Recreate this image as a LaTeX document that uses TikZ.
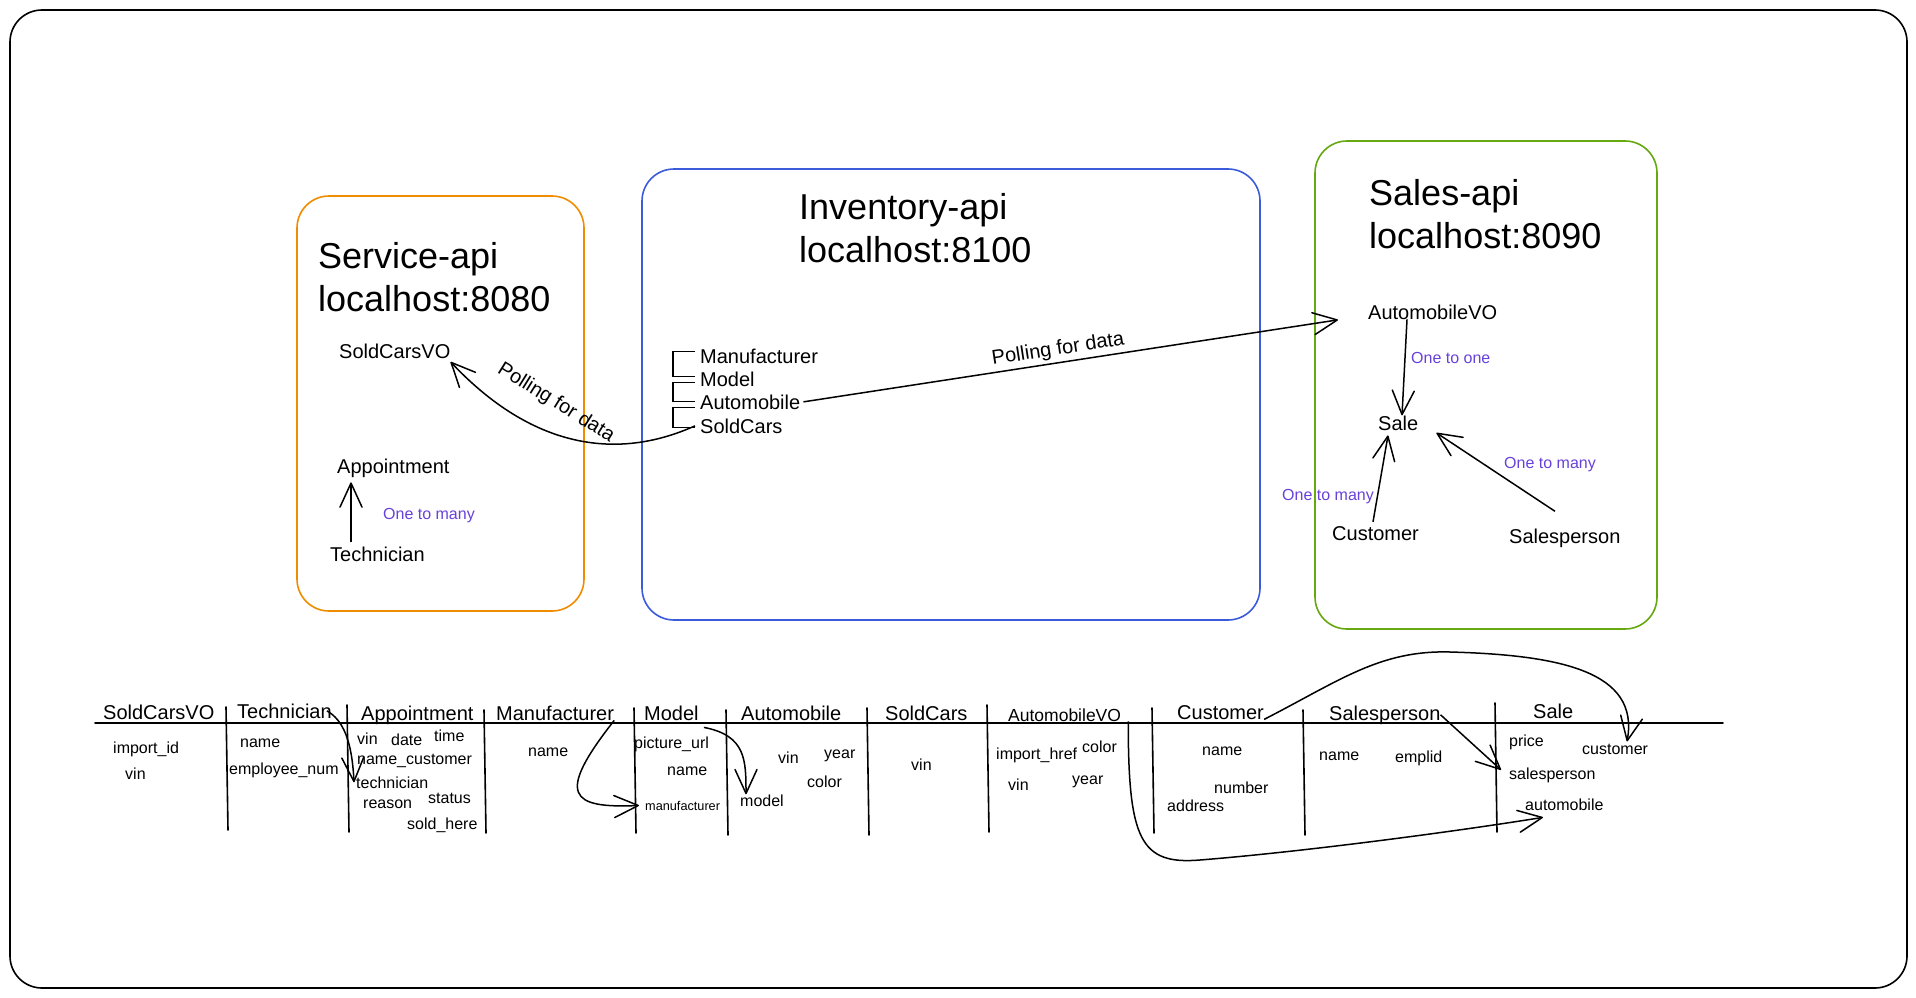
\documentclass[tikz,border=0pt]{standalone}
\usepackage{fontspec}
\setmainfont{Liberation Sans}
\usepackage{tikz}
\usetikzlibrary{arrows.meta,calc}
\definecolor{svcorange}{HTML}{F08C00}
\definecolor{invblue}{HTML}{3B5BDB}
\definecolor{salegreen}{HTML}{66A80F}
\definecolor{relviolet}{HTML}{6741D9}

\begin{document}
\begin{tikzpicture}[x=1pt, y=-1pt,
    ttl/.style={font=\fontsize{36}{43}\selectfont, align=left, anchor=base west, inner sep=0pt},
    ent/.style={font=\fontsize{20}{24}\selectfont, anchor=base west, inner sep=0pt},
    fld/.style={font=\fontsize{16}{19}\selectfont, anchor=base west, inner sep=0pt},
    rel/.style={fld, text=relviolet},
    apibox/.style={line width=1.6pt, rounded corners=32pt},
    tabline/.style={line width=1.6pt, line cap=round},
    bracket/.style={line width=1.2pt},
    link/.style={line width=1.5pt, -{Straight Barb[length=24pt,width=22pt,round]}}]
    \useasboundingbox (0,0) rectangle (1916,998);
    \draw[line width=1.6pt, rounded corners=32pt] (10,10) rectangle (1907,988);

    % service-api
    \draw[apibox, svcorange] (297,196) rectangle (584,611);
    \node[ttl] (svcTitle) at (318,311) {Service-api\\localhost:8080};
    \node[ent] (svcVO) at (339,358) {SoldCarsVO};
    \node[ent] (svcAppt) at (337,473) {Appointment};
    \node[ent] (svcTech) at (330,561) {Technician};
    \node[rel] (svcRel) at (383,519) {One to many};
    \draw[link] ([xshift=21pt,yshift=4pt]svcTech.north west) -- ([xshift=14pt,yshift=-5pt]svcAppt.south west);

    % inventory-api
    \draw[apibox, invblue] (642,169) rectangle (1260,620);
    \node[ttl] (invTitle) at (799,262) {Inventory-api\\localhost:8100};
    \node[ent] (invMfr) at (700,363) {Manufacturer};
    \node[ent] (invModel) at (700,386) {Model};
    \node[ent] (invAuto) at (700,409) {Automobile};
    \node[ent] (invSold) at (700,433) {SoldCars};
    \draw[bracket] ([xshift=-5pt,yshift=4pt]invMfr.west) -- ++(-22,0) |- ([xshift=-5pt,yshift=2pt]invModel.west);
    \draw[bracket] ([xshift=-5pt,yshift=-4pt]invModel.west) -- ++(-22,0) |- ([xshift=-5pt]invAuto.west);
    \draw[bracket] ([xshift=-5pt,yshift=-6pt]invAuto.west) -- ++(-22,0) |- ([xshift=-5pt,yshift=-2pt]invSold.west);

    % sales-api
    \draw[apibox, salegreen] (1315,141) rectangle (1657,629);
    \node[ttl] (saleTitle) at (1369,248) {Sales-api\\localhost:8090};
    \node[ent] (saleVO) at (1368,319) {AutomobileVO};
    \node[ent] (saleSale) at (1378,430) {Sale};
    \node[ent] (saleCust) at (1332,540) {Customer};
    \node[ent] (saleSlsp) at (1509,543) {Salesperson};
    \node[rel] (relOne) at (1411,363) {One to one};
    \node[rel, anchor=base east] (relCust) at (1374,500) {One to many};
    \node[rel] (relSlsp) at (1504,468) {One to many};
    \draw[link] ([xshift=39pt]saleVO.south west) -- ([xshift=24pt]saleSale.north west);
    \draw[link] ([xshift=41pt,yshift=4pt]saleCust.north west) -- ([xshift=10pt,yshift=-5pt]saleSale.south west);
    \draw[link] ([xshift=46pt,yshift=17pt]saleSlsp.north west) -- ([xshift=18pt,yshift=-10pt]saleSale.east);

    % polling
    \draw[link] ([xshift=3pt]invAuto.east) -- ([xshift=-30pt,yshift=-8pt]saleVO.west)
        node[ent, pos=0.48, sloped, above, inner sep=3pt] (pollSale) {Polling for data};
    \draw[link] ([xshift=-5pt]invSold.west) .. controls +(-80,36) and +(80,85) .. ([yshift=-11pt]svcVO.east);
    \node[ent, anchor=center, rotate=-32] (pollSvc) at (556,403) {Polling for data};

    % table
    \draw[tabline] (95,723) -- (1723,723);
    \foreach \x/\ya/\yb in {226/707/830, 347/705/832, 484/710/833, 634/708/833, 726/710/835,
        867/708/835, 987/705/832, 1152/708/833, 1303/710/835, 1495/703/832}
        \draw[tabline] (\x,\ya) -- (\x+2,\yb);

    \foreach \nm/\x/\y/\txt in {hdVO/103/719/SoldCarsVO, hdTech/237/718/Technician,
        hdAppt/361/720/Appointment, hdMfr/496/720/Manufacturer, hdModel/644/720/Model,
        hdAuto/741/720/Automobile, hdSold/885/720/SoldCars, hdCust/1177/719/Customer,
        hdSlsp/1329/720/Salesperson, hdSale/1533/718/Sale}
        \node[ent] (\nm) at (\x,\y) {\txt};
    \node[ent, font=\fontsize{17.5}{21}\selectfont] (hdAutoVO) at (1008,721) {AutomobileVO};

    \foreach \nm/\x/\y/\txt in {fVOid/113/753/import\_id, fVOvin/125/779/vin,
        fTeName/240/747/name, fTeNum/229/774/employee\_num,
        fApVin/357/744/vin, fApDate/391/745/date, fApTime/434/741/time,
        fApCust/357/764/name\_customer, fApTech/356/788/technician, fApReason/363/808/reason,
        fApStatus/428/803/status, fApSold/407/829/sold\_here,
        fMfName/528/756/name,
        fMdPic/634/748/picture\_url, fMdName/667/775/name,
        fAuVin/778/763/vin, fAuYear/824/758/year, fAuColor/807/787/color, fAuModel/740/806/model,
        fSoVin/911/770/vin,
        fAvHref/996/759/import\_href, fAvColor/1082/752/color, fAvVin/1008/790/vin, fAvYear/1072/784/year,
        fCuName/1202/755/name, fCuNum/1214/793/number, fCuAddr/1167/811/address,
        fSpName/1319/760/name, fSpId/1395/762/emplid,
        fSaPrice/1509/746/price, fSaCust/1582/754/customer, fSaSlsp/1509/779/salesperson,
        fSaAuto/1525/810/automobile}
        \node[fld] (\nm) at (\x,\y) {\txt};
    \node[fld, font=\fontsize{12.7}{15}\selectfont] (fMdMfr) at (645,810) {manufacturer};

    \draw[link] ([xshift=-5pt]hdTech.east) .. controls +(16,9) and +(-2,-42) .. ([xshift=-2pt]fApTech.west);
    \draw[link] (hdMfr.south east) .. controls +(-59,75) and +(-69,3) .. ([xshift=-6pt]fMdMfr.west);
    \draw[link] ([xshift=5pt,yshift=-7pt]hdModel.south east) .. controls +(42,8) and +(0,-34) .. ([xshift=6pt]fAuModel.north west);
    \coordinate (voBend) at (1200,860);
    \draw[link] ([xshift=7pt]hdAutoVO.south east) .. controls +(0,118) and +(-60,5) .. (voBend)
        .. controls +(100,-8) and +(-93,15) .. ([xshift=18pt,yshift=-7pt]fSaAuto.south west);
    \coordinate (custPeak) at (1450,652);
    \draw[link] (hdCust.south east) .. controls +(76,-39) and +(-70,-2) .. (custPeak)
        .. controls +(110,3) and +(13,-70) .. ([xshift=45pt,yshift=2pt]fSaCust.north west);
    \draw[link] (hdSlsp.east) -- ([xshift=-8pt,yshift=5pt]fSaSlsp.west);
\end{tikzpicture}
\end{document}
